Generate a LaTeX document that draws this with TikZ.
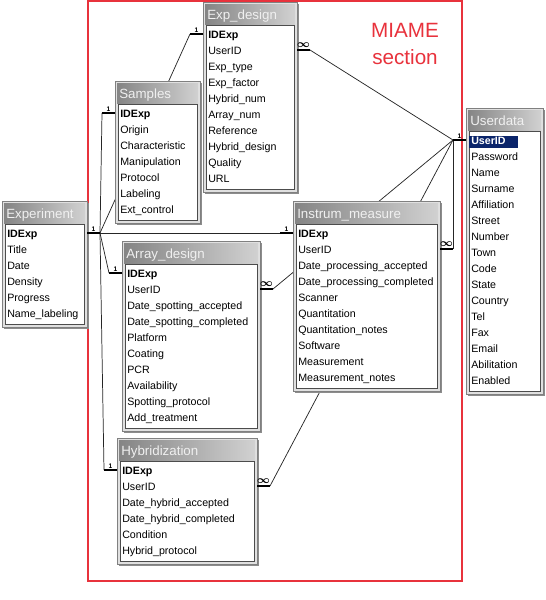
\documentclass[tikz,border=0pt]{standalone}
\usepackage{fontspec}
\setmainfont{Liberation Sans}
\usepackage{amsmath,bm}
\usetikzlibrary{backgrounds}
\definecolor{miame}{HTML}{E8323C}
\definecolor{selblue}{HTML}{0A246A}
\tikzset{tblframe/.style={fill=black!12,draw=black!50,line width=0.5pt},
  tblshadow/.style={fill=black!45},
  tblhead/.style={left color=black!48,right color=black!18},
  tbltitle/.style={anchor=base west,inner sep=0pt,text=black!6,font=\fontsize{10}{12}\selectfont},
  tbllist/.style={fill=white,draw=black!70,line width=0.4pt},
  field/.style={anchor=base west,inner sep=0pt,font=\fontsize{8}{9}\selectfont},
  stub/.style={line width=1.7pt},
  link/.style={draw=black!85,line width=0.55pt},
  onelbl/.style={midway,above=-0.3pt,inner sep=0.5pt,font=\fontsize{5}{5}\selectfont\bfseries},
  manylbl/.style={midway,above=0.2pt,inner sep=0.5pt,font=\fontsize{8}{8}\selectfont\boldmath}}
% name, left, top, width, height, title, fields
\newcommand{\dbtable}[7]{%
  \fill[tblshadow] (#2+1.5,#3+1.5) rectangle ++(#4,#5);
  \draw[tblframe] (#2,#3) rectangle ++(#4,#5);
  \shade[tblhead] (#2+2,#3+2) rectangle (#2+#4-2,#3+22);
  \node[tbltitle] (#1-t) at (#2+4,#3+17) {#6};
  \draw[tbllist] (#2+3,#3+23) rectangle (#2+#4-3,#3+#5-3);
  \foreach \f [count=\i] in {#7}{
    \node[field] (#1-\i) at (#2+5,#3+20+16*\i) {\f};
    \coordinate (#1-W\i) at (#2,#3+16+16*\i);
    \coordinate (#1-E\i) at (#2+#4,#3+16+16*\i);
  }%
}
\newcommand{\selrow}[1]{{\setlength{\fboxsep}{0pt}\hspace*{-1.5pt}\colorbox{selblue}{\makebox[36.75pt][l]{\hspace{1.5pt}\strut\color{white}#1}}}}

\begin{document}
\begin{tikzpicture}[x=0.75pt,y=-0.75pt]
\useasboundingbox (0,0) rectangle (546,600);
% tables (pixel grid, y downwards)
\dbtable{exp}{2}{201}{85}{126}{Experiment}{\textbf{IDExp},Title,Date,Density,Progress,Name\_labeling}
\dbtable{samp}{115}{81}{85}{142}{Samples}{\textbf{IDExp},Origin,Characteristic,Manipulation,Protocol,Labeling,Ext\_control}
\dbtable{expd}{203}{2}{94}{190}{Exp\_design}{\textbf{IDExp},UserID,Exp\_type,Exp\_factor,Hybrid\_num,Array\_num,Reference,Hybrid\_design,Quality,URL}
\dbtable{inst}{293}{201}{147}{190}{Instrum\_measure}{\textbf{IDExp},UserID,Date\_processing\_accepted,Date\_processing\_completed,Scanner,Quantitation,Quantitation\_notes,Software,Measurement,Measurement\_notes}
\dbtable{user}{466}{108}{77}{286}{Userdata}{\selrow{\textbf{UserID}},Password,Name,Surname,Affiliation,Street,Number,Town,Code,State,Country,Tel,Fax,Email,Abilitation,Enabled}
\dbtable{arr}{122}{241}{138}{190}{Array\_design}{\textbf{IDExp},UserID,Date\_spotting\_accepted,Date\_spotting\_completed,Platform,Coating,PCR,Availability,Spotting\_protocol,Add\_treatment}
\dbtable{hyb}{117}{438}{140}{126}{Hybridization}{\textbf{IDExp},UserID,Date\_hybrid\_accepted,Date\_hybrid\_completed,Condition,Hybrid\_protocol}

\node[text=miame,align=center,font=\fontsize{15.5}{20}\selectfont] (miame) at (405,44) {MIAME\\section};

% relationship ends
\draw[stub] (exp-E1) -- ++(13,0) node[onelbl]{1} coordinate (hubE);
\draw[stub] (samp-W1) -- ++(-13,0) node[onelbl]{1} coordinate (sampK);
\draw[stub] (expd-W1) -- ++(-13,0) node[onelbl]{1} coordinate (expdK);
\draw[stub] (inst-W1) -- ++(-13,0) node[onelbl]{1} coordinate (instK);
\draw[stub] (arr-W1) -- ++(-13,0) node[onelbl]{1} coordinate (arrK);
\draw[stub] (hyb-W1) -- ++(-13,0) node[onelbl]{1} coordinate (hybK);
\draw[stub] (user-W1) -- ++(-13,0) node[onelbl]{1} coordinate (hubU);
\draw[stub] (expd-E2) -- ++(13,0) node[manylbl]{$\infty$} coordinate (expdU);
\draw[stub] (inst-E2) -- ++(13,0) node[manylbl]{$\infty$} coordinate (instU);
\draw[stub] (arr-E2) -- ++(13,0) node[manylbl]{$\infty$} coordinate (arrU);
\draw[stub] (hyb-E2) -- ++(13,0) node[manylbl]{$\infty$} coordinate (hybU);

\begin{scope}[on background layer]
\draw[miame,line width=0.8pt] (88,1) rectangle (462,581);
\draw[link] (hubE) -- (sampK);
\draw[link] (hubE) -- (expdK);
\draw[link] (hubE) -- (instK);
\draw[link] (hubE) -- (arrK);
\draw[link] (hubE) -- (hybK);
\draw[link] (hubU) -- (expdU);
\draw[link] (hubU) -- (instU);
\draw[link] (hubU) -- (arrU);
\draw[link] (hubU) -- (hybU);
\end{scope}
\end{tikzpicture}
\end{document}
